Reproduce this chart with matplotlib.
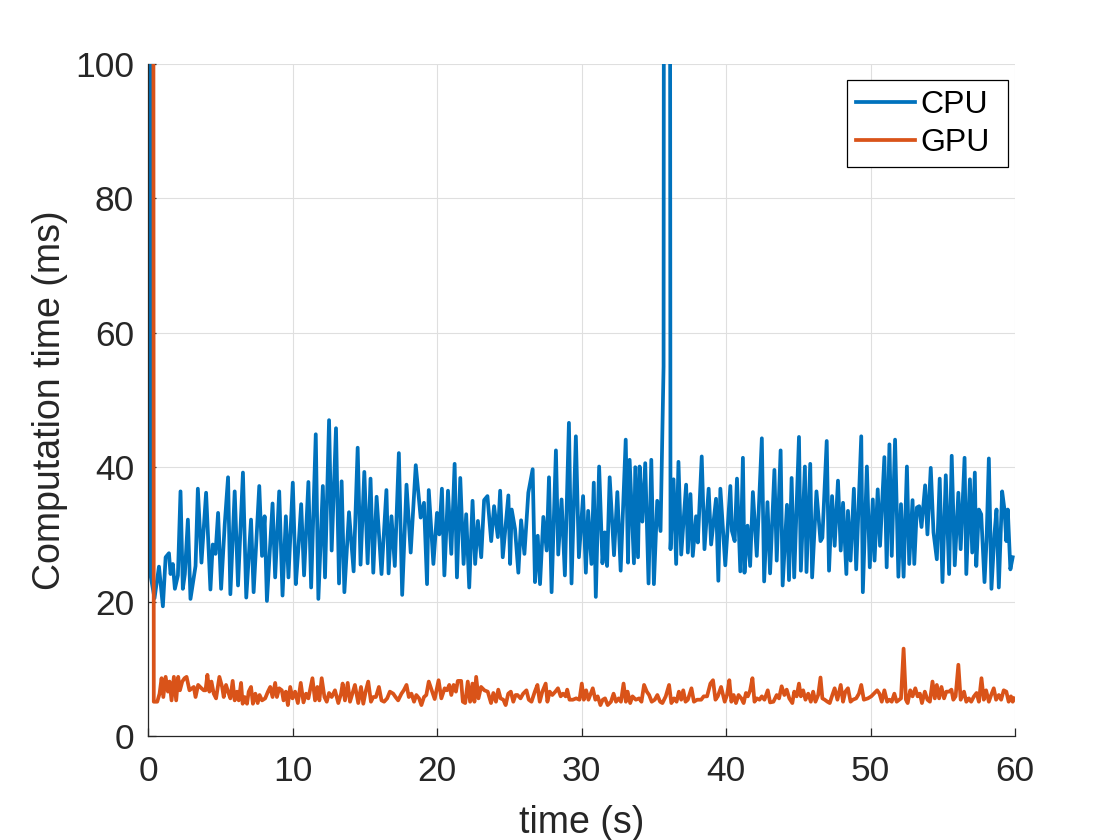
import numpy as np
import matplotlib
matplotlib.use('Agg')
import matplotlib.pyplot as plt

plt.rcParams['font.family'] = ['Liberation Sans', 'DejaVu Sans']

# CPU samples (time s, computation time ms)
cpu_t = [0.05, 0.17, 0.45, 0.76, 1.03, 1.22, 1.45, 1.56, 1.72, 1.86, 2.07, 2.25, 2.41, 2.55, 2.76,
         2.94, 3.29, 3.45, 3.7, 4.02, 4.32, 4.48, 4.67, 4.85, 5.06, 5.31, 5.54, 5.7, 6.0, 6.23,
         6.57, 6.8, 7.13, 7.31, 7.7, 7.89, 8.07, 8.23, 8.62, 8.8, 9.08, 9.31, 9.54, 9.72, 10.02,
         10.23, 10.41, 10.6, 10.8, 11.1, 11.29, 11.61, 11.79, 12.1, 12.25, 12.53, 12.71, 13.01, 13.22, 13.4,
         13.59, 13.91, 14.23, 14.51, 14.71, 14.97, 15.2, 15.4, 15.59, 15.82, 16.16, 16.5, 16.65, 16.85, 17.08,
         17.36, 17.59, 17.89, 18.18, 18.53, 18.87, 19.1, 19.31, 19.43, 19.75, 20.0, 20.16, 20.34, 20.51, 20.76,
         20.99, 21.22, 21.38, 21.61, 21.84, 22.02, 22.23, 22.46, 22.64, 22.83, 23.06, 23.26, 23.49, 23.75, 23.95,
         24.21, 24.37, 24.55, 24.94, 25.06, 25.17, 25.4, 25.63, 25.82, 26.05, 26.32, 26.62, 26.78, 26.97, 27.13,
         27.36, 27.59, 27.75, 27.93, 28.23, 28.39, 28.62, 28.85, 29.13, 29.31, 29.61, 29.82, 30.11, 30.3, 30.46,
         30.69, 30.85, 30.99, 31.22, 31.45, 31.61, 31.77, 31.95, 32.25, 32.48, 32.71, 33.06, 33.22, 33.33, 33.63,
         33.72, 33.91, 34.02, 34.21, 34.41, 34.64, 34.83, 35.01, 35.24, 35.47, 35.68, 35.8, 36.02, 36.16, 36.37,
         36.55, 36.71, 36.9, 37.24, 37.36, 37.54, 37.7, 37.93, 38.05, 38.32, 38.51, 38.8, 38.97, 39.31, 39.47,
         39.61, 39.95, 40.3, 40.41, 40.6, 40.76, 40.99, 41.17, 41.28, 41.49, 41.67, 41.86, 42.13, 42.48, 42.64,
         42.87, 43.05, 43.35, 43.51, 43.78, 43.92, 44.22, 44.36, 44.54, 44.72, 45.05, 45.18, 45.46, 45.57, 45.83,
         45.96, 46.26, 46.54, 46.67, 46.97, 47.13, 47.34, 47.52, 47.75, 47.94, 48.1, 48.33, 48.44, 48.62, 48.85,
         49.01, 49.36, 49.47, 49.75, 49.95, 50.16, 50.28, 50.5, 50.66, 50.96, 51.12, 51.31, 51.47, 51.7, 51.93,
         52.11, 52.29, 52.52, 52.68, 52.91, 53.03, 53.21, 53.37, 53.53, 53.78, 53.94, 54.17, 54.36, 54.59, 54.79,
         54.98, 55.21, 55.44, 55.62, 55.83, 56.08, 56.24, 56.51, 56.63, 56.88, 57.04, 57.22, 57.32, 57.5, 57.66,
         57.89, 58.03, 58.19, 58.37, 58.58, 58.72, 58.88, 59.11, 59.27, 59.4, 59.5, 59.68, 59.84]
cpu_ms = [400, 24.0, 20.5, 25.2, 19.3, 26.6, 27.2, 24.1, 25.6, 21.9, 23.9, 36.4, 21.9, 24.1, 32.2,
          20.4, 25.3, 36.8, 25.8, 36.2, 21.8, 28.5, 27.1, 33.2, 21.9, 31.5, 38.5, 21.1, 36.4, 22.4,
          39.2, 20.6, 32.2, 21.4, 37.2, 26.8, 32.7, 20.1, 34.6, 23.6, 36.4, 20.9, 32.7, 23.6, 37.7,
          22.6, 28.0, 34.5, 23.9, 37.8, 22.1, 44.9, 20.4, 37.2, 23.6, 47.0, 27.6, 45.8, 22.7, 37.9,
          21.4, 33.3, 24.5, 42.9, 25.5, 39.3, 25.7, 38.3, 24.3, 35.6, 24.1, 36.6, 24.2, 32.7, 25.3,
          42.1, 21.0, 37.4, 27.3, 40.3, 32.5, 34.7, 22.6, 36.6, 25.6, 33.2, 30.0, 36.8, 23.9, 36.5,
          27.1, 40.5, 23.6, 38.4, 25.6, 33.0, 22.1, 35.0, 25.6, 32.0, 26.6, 35.1, 35.7, 29.0, 34.2,
          29.6, 36.5, 26.6, 35.8, 25.6, 33.7, 30.8, 24.3, 32.1, 27.1, 36.2, 39.7, 22.9, 29.8, 22.6,
          32.6, 27.6, 38.5, 21.4, 42.5, 27.0, 35.2, 23.9, 46.6, 22.7, 44.6, 26.6, 35.7, 24.3, 33.5,
          25.6, 37.7, 20.7, 40.1, 25.7, 30.3, 25.3, 38.5, 26.9, 36.3, 24.6, 44.1, 25.8, 41.1, 25.7,
          40.0, 26.6, 40.1, 31.9, 40.6, 22.7, 41.1, 22.6, 35.0, 30.5, 55.0, 400, 400, 27.8, 38.2,
          25.6, 40.8, 27.0, 37.4, 27.3, 36.0, 26.8, 32.7, 28.8, 41.6, 27.8, 36.8, 28.5, 35.3, 23.1,
          36.8, 25.4, 37.2, 30.5, 29.0, 38.3, 24.5, 41.4, 24.3, 31.3, 25.3, 36.3, 26.8, 44.3, 23.0,
          34.8, 24.2, 39.6, 26.1, 42.5, 22.4, 34.4, 23.2, 38.4, 23.6, 44.5, 24.6, 40.1, 24.4, 40.5,
          23.6, 36.4, 29.0, 29.5, 43.9, 24.6, 35.7, 28.3, 38.0, 27.6, 34.7, 24.1, 33.5, 26.1, 36.8,
          24.8, 44.6, 21.4, 40.1, 25.1, 35.2, 26.1, 36.7, 28.3, 41.5, 25.1, 43.4, 26.8, 44.1, 23.7,
          34.5, 23.7, 40.1, 25.6, 35.1, 25.6, 34.0, 34.2, 31.1, 37.3, 30.0, 39.9, 30.3, 26.3, 38.3,
          22.9, 38.8, 24.1, 41.7, 25.4, 36.2, 27.8, 41.4, 24.1, 38.2, 27.3, 39.2, 25.3, 33.7, 33.0,
          22.9, 29.0, 41.3, 21.9, 30.1, 33.7, 22.1, 36.4, 33.7, 29.0, 33.7, 24.8, 26.6]

# GPU samples
gpu_t = [0.3, 0.4, 0.64, 0.8, 0.94, 1.06, 1.22, 1.38, 1.49, 1.63, 1.79, 1.95, 2.09, 2.21, 2.37,
         2.53, 2.67, 2.87, 3.17, 3.29, 3.47, 3.7, 3.86, 3.98, 4.11, 4.25, 4.39, 4.55, 4.71, 4.94,
         5.13, 5.24, 5.4, 5.54, 5.7, 5.86, 6.0, 6.16, 6.28, 6.44, 6.55, 6.69, 6.85, 6.97, 7.13,
         7.26, 7.43, 7.59, 7.72, 7.89, 8.11, 8.3, 8.46, 8.62, 8.8, 8.92, 9.08, 9.26, 9.38, 9.54,
         9.68, 9.84, 10.0, 10.18, 10.37, 10.57, 10.76, 10.94, 11.1, 11.38, 11.56, 11.72, 11.86, 12.02, 12.21,
         12.37, 12.53, 12.71, 12.94, 13.17, 13.36, 13.47, 13.63, 13.82, 13.98, 14.14, 14.32, 14.55, 14.74, 14.9,
         15.06, 15.24, 15.43, 15.59, 15.77, 15.98, 16.16, 16.34, 16.55, 16.74, 16.97, 17.13, 17.31, 17.54, 17.7,
         17.89, 18.05, 18.23, 18.41, 18.57, 18.76, 18.92, 19.1, 19.26, 19.43, 19.84, 20.11, 20.3, 20.53, 20.69,
         20.85, 20.99, 21.15, 21.31, 21.44, 21.67, 21.79, 21.95, 22.13, 22.29, 22.45, 22.59, 22.71, 22.87, 23.05,
         23.28, 23.51, 23.74, 23.9, 24.08, 24.24, 24.4, 24.59, 24.75, 24.93, 25.11, 25.28, 25.44, 25.57, 25.78,
         25.96, 26.19, 26.35, 26.54, 26.77, 26.95, 27.11, 27.29, 27.52, 27.64, 27.8, 27.98, 28.19, 28.37, 28.56,
         28.72, 28.9, 29.01, 29.17, 29.4, 29.63, 29.86, 30.02, 30.16, 30.32, 30.48, 30.78, 30.96, 31.12, 31.31,
         31.47, 31.63, 31.81, 32.04, 32.22, 32.39, 32.57, 32.73, 32.91, 33.07, 33.19, 33.37, 33.53, 33.76, 33.99,
         34.15, 34.33, 34.52, 34.68, 34.86, 35.07, 35.25, 35.44, 35.6, 35.83, 36.06, 36.22, 36.4, 36.58, 36.74,
         36.9, 37.04, 37.2, 37.36, 37.61, 37.78, 38.0, 38.28, 38.46, 38.69, 38.92, 39.1, 39.27, 39.43, 39.66,
         39.91, 40.07, 40.23, 40.37, 40.53, 40.69, 40.87, 41.06, 41.22, 41.38, 41.51, 41.67, 41.83, 41.97, 42.13,
         42.32, 42.48, 42.66, 42.89, 43.05, 43.28, 43.51, 43.67, 43.85, 44.04, 44.2, 44.38, 44.59, 44.72, 44.89,
         45.05, 45.18, 45.34, 45.5, 45.69, 45.87, 46.03, 46.19, 46.38, 46.54, 46.67, 46.83, 47.02, 47.18, 47.36,
         47.52, 47.71, 47.94, 48.1, 48.26, 48.44, 48.62, 48.78, 49.01, 49.2, 49.36, 49.54, 49.82, 50.05, 50.23,
         50.46, 50.62, 50.78, 50.96, 51.15, 51.31, 51.47, 51.65, 51.81, 51.99, 52.11, 52.29, 52.45, 52.57, 52.75,
         52.91, 53.1, 53.26, 53.42, 53.56, 53.76, 53.94, 54.11, 54.29, 54.45, 54.59, 54.75, 54.91, 55.09, 55.25,
         55.44, 55.6, 55.73, 55.89, 56.08, 56.24, 56.47, 56.63, 56.81, 56.97, 57.16, 57.34, 57.5, 57.68, 57.84,
         58.0, 58.19, 58.35, 58.53, 58.69, 58.88, 59.04, 59.22, 59.4, 59.56, 59.72, 59.84, 59.95]
gpu_ms = [400, 5.1, 5.1, 6.3, 8.6, 5.8, 8.8, 6.6, 8.1, 5.3, 8.8, 5.3, 8.8, 6.8, 8.1,
          8.6, 8.8, 6.8, 7.3, 5.8, 7.6, 7.1, 6.8, 6.8, 9.1, 6.6, 8.1, 6.3, 5.6, 8.8,
          7.3, 5.8, 7.6, 6.6, 5.6, 8.2, 5.3, 6.6, 5.3, 7.9, 4.8, 5.8, 4.8, 6.6, 7.3,
          4.8, 6.3, 4.9, 6.1, 5.3, 5.6, 6.6, 7.3, 5.8, 7.9, 5.8, 7.1, 6.8, 5.3, 6.6,
          4.6, 7.3, 5.6, 6.6, 4.9, 7.9, 5.0, 6.3, 5.6, 8.6, 5.3, 7.3, 5.3, 8.6, 5.8,
          5.1, 6.4, 5.8, 6.8, 4.9, 6.3, 7.8, 5.3, 7.9, 5.1, 6.3, 7.6, 4.9, 7.3, 4.8,
          6.6, 8.1, 5.1, 5.8, 5.8, 7.3, 5.3, 5.1, 5.6, 6.6, 6.3, 5.8, 5.3, 6.3, 6.8,
          7.6, 5.8, 6.3, 5.1, 6.1, 5.6, 4.6, 5.8, 6.1, 8.1, 5.5, 8.3, 5.6, 7.1, 6.8,
          7.6, 6.1, 7.6, 6.6, 8.2, 8.2, 5.1, 4.9, 8.1, 5.1, 7.8, 5.1, 8.8, 5.6, 7.3,
          6.8, 6.6, 4.9, 6.4, 5.1, 6.9, 5.6, 5.4, 4.6, 6.3, 6.6, 5.1, 6.1, 6.1, 5.6,
          6.3, 6.8, 5.4, 5.1, 6.6, 7.6, 5.1, 6.6, 7.8, 5.1, 6.6, 6.1, 6.6, 7.1, 5.9,
          6.3, 5.9, 6.9, 5.4, 5.4, 5.6, 5.4, 7.8, 5.4, 6.8, 5.4, 7.1, 5.4, 5.9, 4.6,
          5.4, 5.6, 4.6, 5.1, 6.3, 5.1, 5.6, 5.1, 7.8, 5.1, 6.6, 4.9, 5.9, 5.4, 5.6,
          5.1, 7.6, 6.6, 6.1, 5.1, 5.4, 6.1, 5.1, 4.9, 5.9, 7.6, 4.9, 5.6, 5.1, 6.6,
          5.4, 6.8, 5.1, 5.4, 7.1, 5.1, 5.4, 5.4, 5.9, 5.9, 7.8, 8.3, 5.4, 5.9, 7.3,
          5.1, 6.1, 8.3, 5.1, 6.1, 4.9, 6.1, 5.6, 4.9, 6.4, 5.9, 6.8, 8.6, 5.1, 5.6,
          5.4, 5.9, 5.4, 6.8, 5.0, 5.1, 6.1, 5.6, 7.4, 6.1, 6.9, 5.6, 4.9, 6.6, 5.9,
          7.8, 5.9, 6.8, 5.4, 6.3, 5.1, 6.6, 5.1, 6.1, 8.7, 5.6, 5.4, 5.1, 4.9, 6.1,
          7.1, 5.4, 7.6, 5.1, 6.6, 7.1, 5.1, 5.4, 5.6, 6.3, 7.6, 5.4, 5.6, 5.9, 6.3,
          6.8, 6.3, 5.1, 6.8, 5.1, 5.4, 5.1, 6.3, 5.1, 5.4, 5.6, 13.0, 5.4, 4.9, 6.8,
          5.9, 7.1, 5.9, 6.3, 4.9, 6.6, 5.4, 5.1, 8.1, 5.6, 7.6, 5.6, 7.3, 5.6, 6.6,
          6.6, 6.9, 5.4, 5.9, 10.6, 5.4, 6.6, 5.1, 5.6, 5.1, 5.9, 6.4, 5.1, 8.6, 5.4,
          6.8, 5.1, 6.1, 7.1, 5.4, 6.1, 5.4, 6.8, 6.6, 5.1, 5.9, 5.1, 5.6]

fig = plt.figure(figsize=(11.2, 8.4), dpi=100)
ax = fig.add_axes([148 / 1120, 1 - 736 / 840, 867 / 1120, 672 / 840])

ax.plot(cpu_t, cpu_ms, color='#0072BD', lw=2.7, label='CPU')
ax.plot(gpu_t, gpu_ms, color='#D95319', lw=2.7, label='GPU')

ax.set_xlim(0, 60)
ax.set_ylim(0, 100)
ax.set_xticks(range(0, 61, 10))
ax.set_yticks(range(0, 101, 20))
ax.grid(True, color='#dfdfdf', lw=0.8)
ax.set_axisbelow(True)

for s in ['top', 'right']:
    ax.spines[s].set_visible(False)
for s in ['left', 'bottom']:
    ax.spines[s].set_color('#262626')
    ax.spines[s].set_linewidth(0.9)
ax.tick_params(direction='in', length=6, width=0.9, colors='#262626', labelsize=25.5)
ax.tick_params(axis='x', pad=14)
ax.tick_params(axis='y', pad=10)

ax.set_xlabel('time (s)', fontsize=27, color='#262626', labelpad=12)
ax.set_ylabel('Computation time (ms)', fontsize=27, color='#262626', labelpad=5)

# legend box stretched to the width MATLAB gives it
leg = ax.legend(loc='upper left', bbox_to_anchor=(0.806, 0.976, 0.186, 0), mode='expand',
                borderaxespad=0, fontsize=23, handlelength=1.85, handletextpad=0.15,
                labelspacing=0.25, borderpad=0.3, fancybox=False, framealpha=1,
                edgecolor='black')
leg.get_frame().set_linewidth(0.9)

fig.savefig('out.png', dpi=100)
